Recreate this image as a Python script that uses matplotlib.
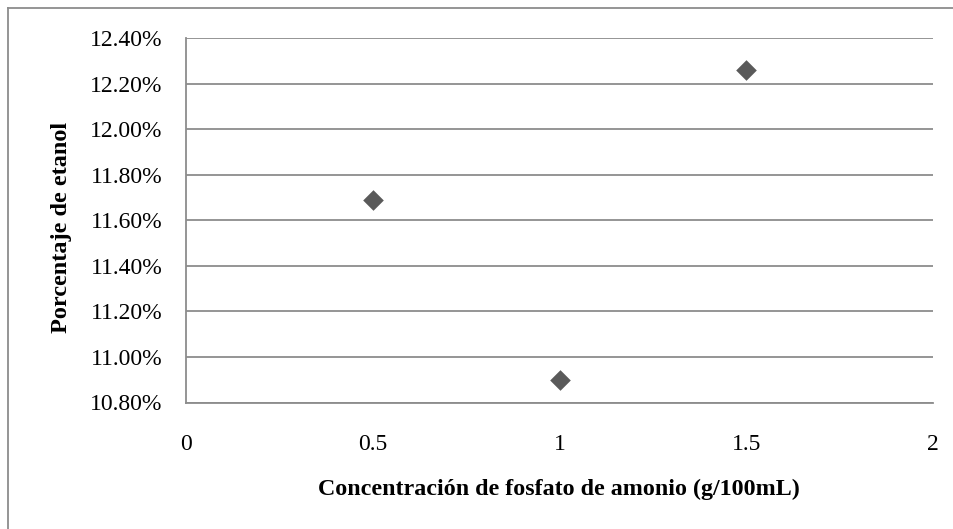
import matplotlib
matplotlib.use("Agg")
import matplotlib.pyplot as plt
from matplotlib.lines import Line2D
from matplotlib.ticker import FuncFormatter, MultipleLocator

concentracion = [0.5, 1.0, 1.5]
etanol = [0.1169, 0.1090, 0.1226]
x_ticks = [0, 0.5, 1, 1.5, 2]
x_tick_labels = ["0", "0.5", "1", "1.5", "2"]

plt.rcParams['font.family'] = ['Liberation Serif', 'DejaVu Serif']

fig = plt.figure(figsize=(9.54, 5.29), dpi=100)
ax = fig.add_axes([186/954, 1-402.5/529, (933-186)/954, (402.5-38)/529])

ax.scatter(concentracion, etanol, marker='D', s=10.5**2, color='#5a5a5a', zorder=3, linewidths=0)

ax.set_xlim(0, 2)
ax.set_ylim(0.108, 0.124)
ax.set_xticks(x_ticks)
ax.set_xticklabels(x_tick_labels)
ax.yaxis.set_major_locator(MultipleLocator(0.002))
ax.yaxis.set_major_formatter(FuncFormatter(lambda v, p: f"{v*100:.2f}%"))

ax.grid(axis='y', color='#8c8c8c', linewidth=1.3)
ax.set_axisbelow(True)
for s in ['top', 'right']:
    ax.spines[s].set_visible(False)
for s in ['left', 'bottom']:
    ax.spines[s].set_color('#8c8c8c')
    ax.spines[s].set_linewidth(1.3)

ax.tick_params(axis='both', length=0, labelsize=17)
ax.tick_params(axis='x', pad=23)
ax.tick_params(axis='y', pad=17)

ax.set_xlabel("Concentración de fosfato de amonio (g/100mL)", fontsize=17.3, fontweight='bold')
ax.set_ylabel("Porcentaje de etanol", fontsize=17.5, fontweight='bold')
ax.xaxis.set_label_coords(559/954, 1-489/529, transform=fig.transFigure)
ax.yaxis.set_label_coords(61/954, 1-227/529, transform=fig.transFigure)
ax.xaxis.label.set_va('center')
ax.yaxis.label.set_va('center')

fig.add_artist(Line2D([8/954, 1], [1-8/529, 1-8/529], color='#8c8c8c', linewidth=1.3, transform=fig.transFigure))
fig.add_artist(Line2D([8/954, 8/954], [0, 1-8/529], color='#8c8c8c', linewidth=1.3, transform=fig.transFigure))

fig.savefig("out.png", dpi=100)
